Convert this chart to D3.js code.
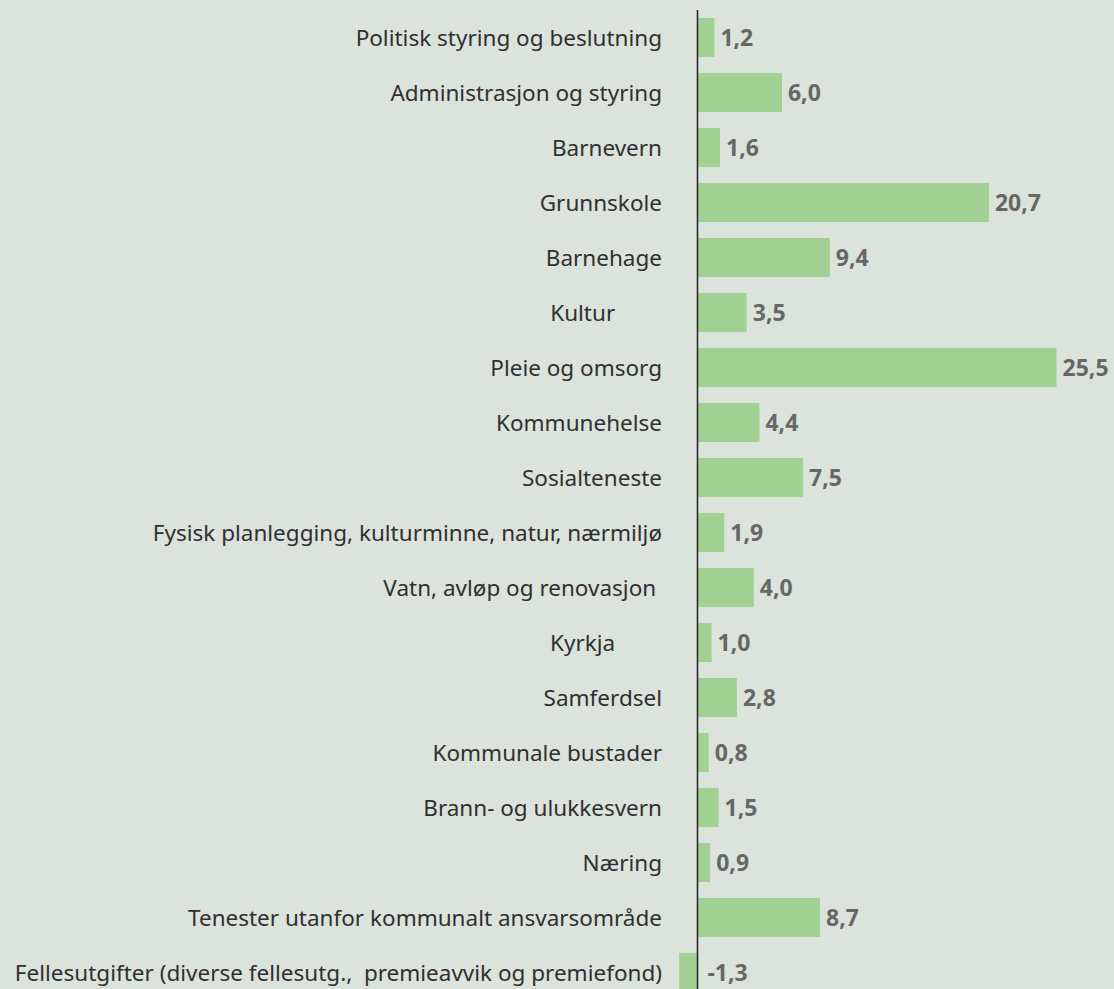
<!DOCTYPE html>
<html>
<head>
<meta charset="utf-8">
<script src="https://cdn.jsdelivr.net/npm/d3@7"></script>
<style>
  html, body { margin: 0; padding: 0; background: #dce2dc; }
  svg { display: block; }
  text { font-family: "Noto Sans", sans-serif; }
</style>
</head>
<body>
<svg id="chart" width="1114" height="989"></svg>
<script>
// Spending categories (share of total, percent)
const categories = [
  "Politisk styring og beslutning",
  "Administrasjon og styring",
  "Barnevern",
  "Grunnskole",
  "Barnehage",
  "Kultur        ",
  "Pleie og omsorg",
  "Kommunehelse",
  "Sosialteneste",
  "Fysisk planlegging, kulturminne, natur, nærmiljø",
  "Vatn, avløp og renovasjon ",
  "Kyrkja        ",
  "Samferdsel",
  "Kommunale bustader",
  "Brann- og ulukkesvern",
  "Næring",
  "Tenester utanfor kommunalt ansvarsområde",
  "Fellesutgifter (diverse fellesutg.,  premieavvik og premiefond)"
];
const values = [1.2, 6.0, 1.6, 20.7, 9.4, 3.5, 25.5, 4.4, 7.5, 1.9, 4.0, 1.0, 2.8, 0.8, 1.5, 0.9, 8.7, -1.3];

const svg = d3.select("#chart");
const zeroX = 697.5;
const pxPerUnit = 14.08;

const x = d3.scaleLinear()
  .domain([0, 1])
  .range([zeroX, zeroX + pxPerUnit]);

const y = d3.scaleBand()
  .domain(categories)
  .range([10, 1000])
  .paddingInner(0.29)
  .paddingOuter(0.145);

const fmt = v => d3.format(".1f")(v).replace(".", ",").replace("−", "-");

// bars
svg.append("g").selectAll("rect")
  .data(values)
  .join("rect")
  .attr("x", v => x(Math.min(0, v)))
  .attr("width", v => Math.abs(x(v) - x(0)))
  .attr("y", (v, i) => y(categories[i]))
  .attr("height", y.bandwidth())
  .attr("fill", "#a1d293");

// zero axis line
svg.append("line")
  .attr("x1", x(0)).attr("x2", x(0))
  .attr("y1", 10).attr("y2", 1000)
  .attr("stroke", "#222")
  .attr("stroke-width", 1.5);

// category labels
svg.append("g").selectAll("text")
  .data(categories)
  .join("text")
  .attr("x", 662)
  .attr("y", d => y(d) + y.bandwidth() / 2)
  .attr("dy", "0.38em")
  .attr("text-anchor", "end")
  .style("white-space", "pre")
  .attr("font-size", 22.5)
  .attr("fill", "#303030")
  .text(d => d);

// value labels
svg.append("g").selectAll("text")
  .data(values)
  .join("text")
  .attr("x", v => (v >= 0 ? x(v) + 6 : x(0) + 10))
  .attr("y", (v, i) => y(categories[i]) + y.bandwidth() / 2)
  .attr("dy", "0.38em")
  .attr("font-size", 23)
  .attr("font-weight", "bold")
  .attr("fill", "#676767")
  .text(v => fmt(v));
</script>
</body>
</html>
